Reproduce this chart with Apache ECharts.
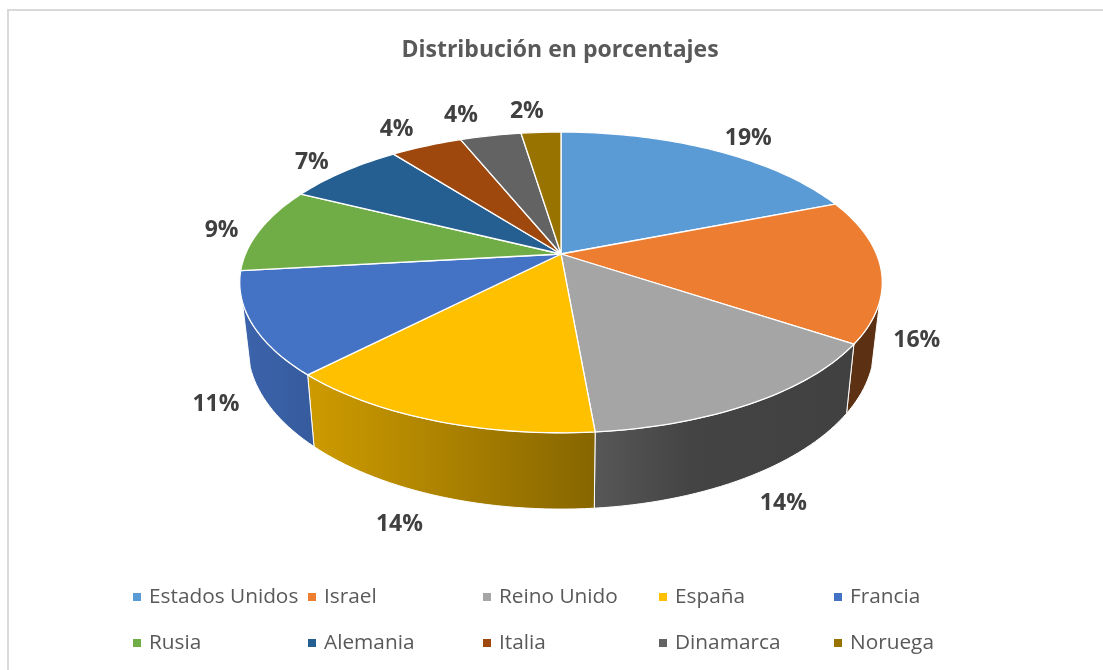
<!DOCTYPE html>
<html>
<head>
<meta charset="utf-8">
<script src="https://cdn.jsdelivr.net/npm/echarts@6/dist/echarts.min.js"></script>
<style>html,body{margin:0;padding:0;background:#fff}#c{width:1103px;height:670px}</style>
</head>
<body>
<div id="c"></div>
<script>
const titleText = 'Distribución en porcentajes';
const categories = ['Estados Unidos','Israel','Reino Unido','España','Francia','Rusia','Alemania','Italia','Dinamarca','Noruega'];
const shares = [19.0,15.4,14.2,13.6,11.0,9.2,7.15,4.35,3.7,2.4];
const percentLabels = ['19%','16%','14%','14%','11%','9%','7%','4%','4%','2%'];
const colors = ['#5B9BD5','#ED7D31','#A5A5A5','#FFC000','#4472C4','#70AD47','#255E91','#9E480E','#636363','#997300'];

// layout of the tilted pie (perspective projection of a unit disc)
const CX = 561, CY = 254, RX = 315.5, RY = 145, K = 0.189;
const WALL_SHIFT = 62, WALL_SX = 0.975, WALL_SY = 1.08;
const WALL_FROM = 108, WALL_TO = 252;
const LABEL_RHO = 1.13, LABEL_WALL = 70, LABEL_DY = 1.5;
const labelNudge = [[17,-2],[-7,-3],[0,5],[-13,5],[8,-1],[-1,3],[-7,-1],[-15,-6],[-22,-9],[-12,-9]];
const shadeStops = [[240,.88],[314,.80],[595,.53],[690,.41],[881,.39]];
const FONT = '"Open Sans", sans-serif';

const total = shares.reduce((a,b)=>a+b,0);
const starts = []; let run = 0;
shares.forEach(v=>{starts.push(run/total*360); run+=v;});

function project(deg, rho){
  const t = deg*Math.PI/180, u = Math.sin(t)*rho, v = -Math.cos(t)*rho, s = 1/(1-K*v);
  return [CX+RX*u*s, CY+RY*v*s];
}
function lower(p){
  return [CX+(p[0]-CX)*WALL_SX, CY+WALL_SHIFT+(p[1]-CY)*WALL_SY];
}
function arc(a,b){
  const n = Math.max(2,Math.ceil((b-a)/1.5)), pts=[];
  for(let i=0;i<=n;i++) pts.push(project(a+(b-a)*i/n,1));
  return pts;
}
function shade(hex,f){
  const n=parseInt(hex.slice(1),16);
  const c=[(n>>16)&255,(n>>8)&255,n&255].map(x=>Math.round(x*f));
  return 'rgb('+c.join(',')+')';
}
function wallFill(hex){
  const x0=shadeStops[0][0], x1=shadeStops[shadeStops.length-1][0];
  return new echarts.graphic.LinearGradient(x0,0,x1,0,
    shadeStops.map(s=>({offset:(s[0]-x0)/(x1-x0),color:shade(hex,s[1])})),true);
}
function makeRender(i){
  return function(){
    const a=starts[i], b=a+shares[i]/total*360, kids=[];
    const wa=Math.max(a,WALL_FROM), wb=Math.min(b,WALL_TO);
    if(wb>wa){
      const top=arc(wa,wb), bot=top.map(lower).reverse();
      kids.push({type:'polygon',z2:1,shape:{points:top.concat(bot)},
        style:{fill:wallFill(colors[i]),stroke:'#fff',lineWidth:1}});
    }
    kids.push({type:'polygon',z2:2,shape:{points:[[CX,CY]].concat(arc(a,b))},
      style:{fill:colors[i],stroke:'#fff',lineWidth:1.3,lineJoin:'round'}});
    const mid=(a+b)/2, v=-Math.cos(mid*Math.PI/180), p=project(mid,LABEL_RHO);
    const wall=LABEL_WALL*Math.max(0,Math.min(1,v/0.1));
    kids.push({type:'text',z2:3,x:p[0]+labelNudge[i][0],y:p[1]+wall+labelNudge[i][1]+LABEL_DY,
      style:{text:percentLabels[i],align:'center',verticalAlign:'middle',fill:'#404040',
        font:'bold 23px '+FONT}});
    return {type:'group',children:kids};
  };
}
const columns=[[0,5,133],[1,6,308],[2,7,483],[3,8,659],[4,9,834]];
const option={
  animation:false,
  backgroundColor:'#fff',
  title:{text:titleText,left:555,top:45,textAlign:'center',textVerticalAlign:'middle',
    textStyle:{fontFamily:FONT,fontSize:23,fontWeight:'bold',color:'#595959'}},
  legend:columns.map(c=>({
    orient:'vertical',left:c[2],top:585,padding:0,itemWidth:8,itemHeight:8,itemGap:22,
    icon:'rect',selectedMode:false,
    data:[categories[c[0]],categories[c[1]]],
    textStyle:{fontFamily:FONT,fontSize:20.8,color:'#595959',lineHeight:24,padding:[0,0,0,3]}
  })),
  graphic:[{type:'polyline',silent:true,z:-1,shape:{points:[[8,670],[8,10],[1103,10]]},
    style:{stroke:'#D9D9D9',lineWidth:2,fill:null}}],
  series:categories.map((name,i)=>({
    type:'custom',name:name,coordinateSystem:'none',silent:true,
    itemStyle:{color:colors[i]},
    data:[{name:name,value:shares[i]}],
    renderItem:makeRender(i)
  }))
};
echarts.init(document.getElementById('c')).setOption(option);
</script>
</body>
</html>
